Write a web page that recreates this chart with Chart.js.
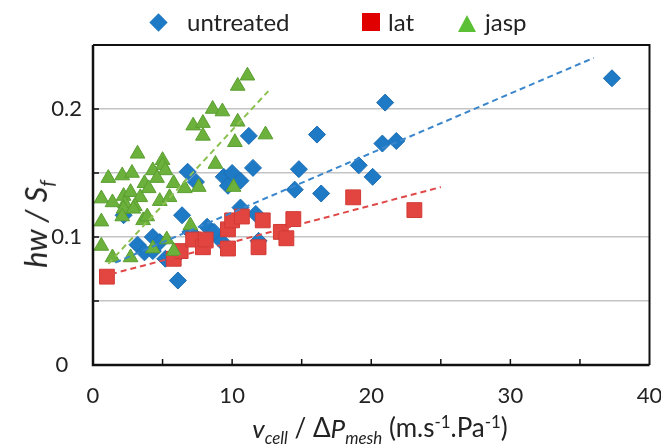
<!DOCTYPE html>
<html>
<head>
<meta charset="utf-8">
<script src="https://cdn.jsdelivr.net/npm/chart.js@4"></script>
<style>
  html, body { margin: 0; padding: 0; background: #fff; }
  #wrap { position: relative; width: 661px; height: 444px; font-family: Lato, "Noto Sans", sans-serif; color: #222; }
  canvas { position: absolute; left: 0; top: 0; }
  .leg { position: absolute; top: 8px; font-size: 24px; line-height: 28px; }
  .mk { position: absolute; }
  .diamond { width: 13px; height: 13px; background: #1f7ac6; transform: rotate(45deg); }
  .square { width: 18px; height: 18px; background: #e00000; }
  .tri { width: 0; height: 0; border-left: 9.5px solid transparent; border-right: 9.5px solid transparent; border-bottom: 17px solid #5cc036; }
  #ytitle { position: absolute; left: 37px; top: 224px; transform: translate(-50%, -50%) rotate(-90deg); font-size: 31px; font-style: italic; white-space: nowrap; }
  #xtitle { position: absolute; left: 380px; top: 429px; transform: translate(-50%, -50%); font-size: 26px; white-space: nowrap; }
  sub, sup { font-size: 65%; }
</style>
</head>
<body>
<div id="wrap">
  <canvas id="chart" width="661" height="444"></canvas>
  <div class="mk diamond" style="left:151.5px;top:15.5px"></div>
  <div class="leg" style="left:187px">untreated</div>
  <div class="mk square" style="left:362px;top:13px"></div>
  <div class="leg" style="left:388px">lat</div>
  <div class="mk tri" style="left:458px;top:15px"></div>
  <div class="leg" style="left:485px">jasp</div>
  <div id="ytitle">hw / S<sub>f</sub></div>
  <div id="xtitle"><i>v<sub>cell</sub></i> / Δ<i>P<sub>mesh</sub></i> (m.s<sup>-1</sup>.Pa<sup>-1</sup>)</div>
</div>
<script>
const untreated = [
  [37.3, 0.224], [21.0, 0.205], [16.1, 0.180], [11.2, 0.179], [20.8, 0.173], [21.8, 0.175],
  [14.8, 0.153], [19.1, 0.156], [20.1, 0.147], [14.5, 0.137], [16.4, 0.134], [6.8, 0.151],
  [7.4, 0.143], [9.4, 0.147], [10.0, 0.150], [10.6, 0.144], [11.5, 0.154], [9.7, 0.140],
  [6.4, 0.117], [10.6, 0.123], [11.7, 0.118], [8.2, 0.108], [9.2, 0.097], [11.9, 0.097],
  [6.1, 0.066], [3.2, 0.094], [4.3, 0.100], [4.8, 0.096], [3.7, 0.088], [4.3, 0.089],
  [5.2, 0.083], [5.9, 0.084], [2.2, 0.117], [7.0, 0.104], [8.7, 0.104]
];
const lat = [
  [1.0, 0.069], [5.8, 0.083], [6.3, 0.089], [7.2, 0.098], [7.9, 0.092], [8.1, 0.098],
  [9.7, 0.106], [9.7, 0.091], [10.0, 0.113], [10.7, 0.116], [12.2, 0.113], [11.9, 0.092],
  [13.5, 0.104], [13.9, 0.099], [14.4, 0.114], [18.7, 0.131], [23.1, 0.121]
];
const jasp = [
  [11.1, 0.226], [10.4, 0.218], [8.6, 0.200], [9.3, 0.198], [7.2, 0.187], [7.9, 0.189],
  [7.9, 0.179], [10.4, 0.190], [12.4, 0.180], [10.2, 0.174], [8.8, 0.157], [10.1, 0.139],
  [3.2, 0.165], [5.0, 0.160], [5.0, 0.156], [4.3, 0.152], [5.2, 0.152], [1.1, 0.146],
  [2.1, 0.148], [2.8, 0.150], [3.7, 0.142], [4.6, 0.146], [5.8, 0.142], [6.6, 0.138],
  [7.6, 0.139], [0.6, 0.130], [1.4, 0.127], [2.2, 0.132], [2.7, 0.135], [3.4, 0.131],
  [4.0, 0.138], [3.0, 0.124], [2.3, 0.126], [4.8, 0.128], [5.5, 0.131], [2.2, 0.122],
  [2.9, 0.122], [0.6, 0.112], [2.1, 0.116], [3.6, 0.113], [3.9, 0.116], [0.6, 0.093],
  [1.4, 0.084], [2.7, 0.084], [4.3, 0.091], [5.3, 0.098], [5.8, 0.089], [7.0, 0.109]
];
// dashed trend lines, endpoints
const trendUntreated = [[1.6, 0.080], [36.0, 0.240]];
const trendLat = [[0.6, 0.069], [25.0, 0.139]];
const trendJasp = [[1.1, 0.079], [12.6, 0.214]];

const xTicks = [0, 10, 20, 30, 40];
const yTicks = [0, 0.1, 0.2];

const pts = a => a.map(([x, y]) => ({ x, y }));

const trend = (data, color) => ({
  type: "line", data: pts(data), borderColor: color, borderWidth: 2,
  borderDash: [6, 4], pointRadius: 0, fill: false, order: 0,
});

const frame = {
  id: "frame",
  afterDatasetsDraw(chart) {
    const { ctx, chartArea: a, scales } = chart;
    ctx.save();
    ctx.strokeStyle = "#111";
    // tick marks pointing inward
    ctx.lineWidth = 1.5;
    for (let v = 5; v < 40; v += 5) {
      const px = scales.x.getPixelForValue(v);
      ctx.beginPath(); ctx.moveTo(px, a.bottom); ctx.lineTo(px, a.bottom - 6); ctx.stroke();
    }
    for (let v = 0.05; v < 0.249; v += 0.05) {
      const py = scales.y.getPixelForValue(v);
      ctx.beginPath(); ctx.moveTo(a.left, py); ctx.lineTo(a.left + 6, py); ctx.stroke();
    }
    ctx.lineWidth = 2;
    ctx.beginPath(); ctx.moveTo(a.left, a.top); ctx.lineTo(a.right, a.top); ctx.lineTo(a.right, a.bottom); ctx.stroke();
    ctx.lineWidth = 2.5;
    ctx.beginPath(); ctx.moveTo(a.left, a.top); ctx.lineTo(a.left, a.bottom); ctx.lineTo(a.right, a.bottom); ctx.stroke();
    ctx.restore();
  }
};

new Chart(document.getElementById("chart"), {
  type: "scatter",
  data: {
    datasets: [
      trend(trendUntreated, "#3a86cc"),
      trend(trendLat, "#e04848"),
      trend(trendJasp, "#8cc152"),
      { label: "jasp", data: pts(jasp), pointStyle: "triangle", pointRadius: 8.5,
        backgroundColor: "#6bb13c", borderColor: "#5a9e30", borderWidth: 1, order: 1 },
      { label: "lat", data: pts(lat), pointStyle: "rect", pointRadius: 10.5,
        backgroundColor: "#e2453f", borderColor: "#d23a35", borderWidth: 1, order: 2 },
      { label: "untreated", data: pts(untreated), pointStyle: "rectRot", pointRadius: 8.5,
        backgroundColor: "#1f7ac6", borderColor: "#1a6db3", borderWidth: 1, order: 3 },
    ]
  },
  options: {
    responsive: false,
    animation: false,
    layout: { padding: { top: 45, right: 11, left: 0, bottom: 0 } },
    plugins: { legend: { display: false }, tooltip: { enabled: false } },
    scales: {
      x: {
        type: "linear", min: 0, max: 40,
        afterFit: s => { s.height = 79; s.paddingRight = 0; s.paddingLeft = 0; },
        afterBuildTicks: s => { s.ticks = xTicks.map(v => ({ value: v })); },
        ticks: { color: "#222", font: { family: "Lato", size: 22 }, padding: 10, maxRotation: 0 },
        grid: { display: false },
        border: { display: false },
      },
      y: {
        min: 0, max: 0.25,
        afterFit: s => { s.width = 93; s.paddingTop = 0; s.paddingBottom = 0; },
        afterBuildTicks: s => { s.ticks = [0, 0.05, 0.1, 0.15, 0.2, 0.25].map(v => ({ value: v })); },
        ticks: {
          color: "#222", font: { family: "Lato", size: 22 }, padding: 11,
          // the "0" label sits a little left of the others in the original
          callback: v => v === 0 ? "0\u2002\u2009" : (yTicks.some(t => Math.abs(t - v) < 1e-9) ? String(v) : ""),
        },
        grid: {
          drawTicks: false, lineWidth: 1.5,
          color: c => (c.tick && c.tick.value > 0.001 && c.tick.value < 0.249) ? "#c4c4c4" : "rgba(0,0,0,0)",
        },
        border: { display: false },
      }
    }
  },
  plugins: [frame]
});
</script>
</body>
</html>
